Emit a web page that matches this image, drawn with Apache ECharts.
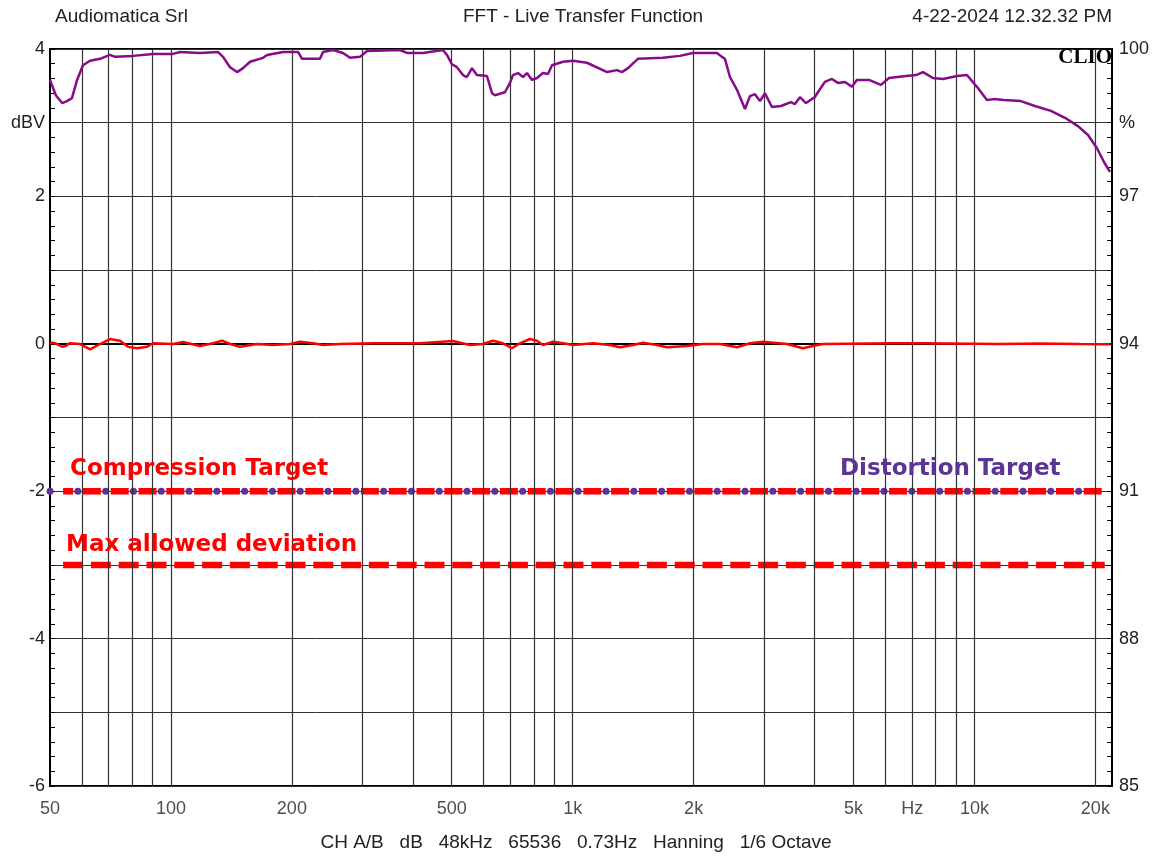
<!DOCTYPE html>
<html><head><meta charset="utf-8">
<script src="https://cdn.jsdelivr.net/npm/echarts@6/dist/echarts.min.js"></script>
<style>html,body{margin:0;padding:0;background:#fff}#c{width:1160px;height:856px}</style>
</head><body><div id="c"></div>
<script>
// ---- data ----
const distFreq = [50, 51.7, 53.6, 55.1, 56.7, 58.4, 60.4, 62.9, 66.6, 70.5,
  72.6, 80.5, 90.3, 101.2, 105.3, 118.1, 130.9, 134.8, 140.3, 146.1,
  151.2, 157.4, 169.5, 173.5, 190.2, 207.2, 212, 235, 239.1, 253.2,
  268.1, 279.1, 295.5, 307.6, 371.6, 386.8, 424, 475.4, 486.4, 500.6,
  515.1, 533.2, 545.5, 561.4, 577.7, 611.8, 629.7, 640.5, 678.3, 698.2,
  710.2, 730.9, 752.2, 769.6, 791.9, 815, 843.5, 868, 888.2, 946.2,
  1002, 1085, 1218, 1289, 1326, 1373, 1453, 1677, 1849, 1991,
  2286, 2353, 2393, 2463, 2564, 2684, 2762, 2842, 2925, 3010,
  3133, 3299, 3493, 3574, 3678, 3807, 4007, 4077, 4244, 4418,
  4573, 4760, 4954, 5098, 5463, 5853, 6127, 6756, 7153, 7446,
  7885, 8350, 9047, 9580, 10145, 10743, 11183, 11842, 13052, 14142,
  15502, 16800, 18103, 19173, 20186, 21011, 21745];
const distPct = [99.37, 99.06, 98.90, 98.94, 99.00, 99.37, 99.67, 99.76, 99.80, 99.88,
  99.84, 99.86, 99.90, 99.90, 99.94, 99.92, 99.94, 99.84, 99.63, 99.53,
  99.61, 99.74, 99.82, 99.88, 99.94, 99.94, 99.80, 99.80, 99.94, 99.98,
  99.92, 99.82, 99.84, 99.96, 99.98, 99.92, 99.92, 99.98, 99.88, 99.69,
  99.63, 99.47, 99.43, 99.61, 99.47, 99.45, 99.10, 99.06, 99.12, 99.31,
  99.47, 99.51, 99.43, 99.51, 99.37, 99.41, 99.51, 99.49, 99.67, 99.74,
  99.76, 99.72, 99.53, 99.57, 99.53, 99.61, 99.80, 99.82, 99.86, 99.92,
  99.92, 99.84, 99.80, 99.43, 99.17, 98.78, 99.04, 99.08, 98.94, 99.10,
  98.82, 98.84, 98.92, 98.88, 99.02, 98.90, 99.02, 99.12, 99.33, 99.39,
  99.31, 99.33, 99.23, 99.37, 99.37, 99.27, 99.41, 99.45, 99.47, 99.53,
  99.41, 99.39, 99.45, 99.47, 99.23, 98.96, 98.98, 98.96, 98.94, 98.84,
  98.74, 98.60, 98.43, 98.25, 97.98, 97.70, 97.50];
const compFreq = [50, 50.9, 52, 53.6, 54.7, 55.9, 59.4, 62.9, 66.6, 70.5,
  74.7, 78.2, 82.3, 87.2, 90.3, 101.2, 107.2, 118.1, 127.2, 134,
  140.3, 148.6, 163.8, 179.5, 197.9, 209.6, 225.8, 239.1, 263.6, 318.4,
  416.8, 503.5, 555, 597.8, 633.3, 670.6, 706.1, 739.2, 782.8, 815,
  843.5, 893.3, 946.2, 1002, 1123, 1238, 1311, 1413, 1496, 1621,
  1716, 1924, 2110, 2326, 2564, 2762, 2976, 3414, 3741, 3962,
  4196, 6270, 7446, 11574, 14552, 18308, 21745];
const compDb = [0.01, 0.015, -0.003, -0.04, -0.03, 0.007, -0.003, -0.075, -0.003, 0.065,
  0.042, -0.04, -0.06, -0.04, 0.007, -0.003, 0.024, -0.03, 0.007, 0.042,
  -0.003, -0.04, -0.003, -0.016, -0.003, 0.028, 0.007, -0.016, -0.003, 0.007,
  0.007, 0.038, -0.016, -0.003, 0.042, 0.007, -0.06, 0.007, 0.065, 0.042,
  -0.016, 0.028, 0.007, -0.016, 0.007, -0.016, -0.047, -0.016, 0.015, -0.016,
  -0.047, -0.03, -0.003, -0.003, -0.047, 0.007, 0.028, -0.003, -0.06, -0.03,
  -0.003, 0.007, 0.007, -0.003, 0.004, -0.003, -0.007];
const gridFreqs = [60, 70, 80, 90, 100, 200, 300, 400, 500, 600, 700, 800, 900,
  1000, 2000, 3000, 4000, 5000, 6000, 7000, 8000, 9000, 10000, 20000];
const tickFreqs = [50, 100, 200, 500, 1000, 2000, 5000, 7000, 10000, 20000];
const tickLabels = ['50', '100', '200', '500', '1k', '2k', '5k', 'Hz', '10k', '20k'];
const compressionTargetDb = -2;
const maxDeviationDb = -3;
const distortionTargetPct = 91;
const targetRange = [53.9, 21100];
const distTargetRange = [50, 18500];

// ---- chart ----
const SANS = '"Liberation Sans", Arial, sans-serif';
const BOLD = 'bold 23px "DejaVu Sans", sans-serif';
const chart = echarts.init(document.getElementById('c'), null, {renderer: 'canvas'});
const pair = (xs, ys) => xs.map((x, i) => [x, ys[i]]);

chart.setOption({
  animation: false,
  backgroundColor: '#fff',
  grid: {left: 50, right: 48, top: 49, bottom: 70, show: true, borderColor: '#000', borderWidth: 2, backgroundColor: 'transparent'},
  xAxis: {
    type: 'log', logBase: 10, min: 50, max: 22000,
    axisLine: {show: true, lineStyle: {color: '#000', width: 2}},
    axisTick: {show: false}, axisLabel: {show: false}, splitLine: {show: false}, minorTick: {show: false}
  },
  yAxis: [{
    type: 'value', min: -6, max: 4, interval: 1, position: 'left',
    axisLine: {show: true, lineStyle: {color: '#000', width: 2}},
    axisTick: {show: true, inside: true, length: 5, lineStyle: {color: '#000'}},
    minorTick: {show: true, splitNumber: 5, length: 5, lineStyle: {color: '#000'}},
    splitLine: {show: true, lineStyle: {color: '#333', width: 1}},
    axisLabel: {
      margin: 5, color: '#222', fontSize: 18, fontFamily: SANS,
      formatter: v => (Math.abs(v - 3) < 1e-6 ? 'dBV' : (Math.round(v) % 2 === 0 ? String(Math.round(v)) : ''))
    }
  }, {
    type: 'value', min: 85, max: 100, interval: 1.5, position: 'right',
    axisLine: {show: true, lineStyle: {color: '#000', width: 2}},
    axisTick: {show: true, inside: true, length: 5, lineStyle: {color: '#000'}},
    minorTick: {show: true, splitNumber: 5, length: 5, lineStyle: {color: '#000'}},
    splitLine: {show: false},
    axisLabel: {
      margin: 7, color: '#222', fontSize: 18, fontFamily: SANS,
      formatter: v => {
        if (Math.abs(v - 98.5) < 1e-6) return '%';
        const k = Math.round((v - 85) / 1.5);
        return k % 2 === 0 ? String(Math.round(v)) : '';
      }
    }
  }],
  series: [
    { // vertical grid lines
      type: 'line', data: [], z: 1, silent: true,
      markLine: {
        silent: true, symbol: 'none', animation: false, label: {show: false},
        lineStyle: {color: '#333', width: 1.2, type: 'solid'},
        data: gridFreqs.map(f => ({xAxis: f}))
      }
    },
    { // frequency tick labels
      type: 'scatter', z: 2, silent: true, symbolSize: 1,
      itemStyle: {color: 'rgba(0,0,0,0)'},
      data: tickFreqs.map((f, i) => ({value: [f, -6], name: tickLabels[i]})),
      label: {show: true, position: 'bottom', distance: 14, formatter: p => p.name, color: '#222', fontSize: 18, fontFamily: SANS}
    },
    {
      name: 'Compression', type: 'line', z: 5, yAxisIndex: 0, showSymbol: false, silent: true,
      data: pair(compFreq, compDb), lineStyle: {color: '#ff0000', width: 2.5}
    },
    {
      name: 'Distortion', type: 'line', z: 5, yAxisIndex: 1, showSymbol: false, silent: true,
      data: pair(distFreq, distPct), lineStyle: {color: '#870a8a', width: 2.5}
    },
    {
      name: 'Max allowed deviation', type: 'line', z: 4, yAxisIndex: 0, showSymbol: false, silent: true,
      data: targetRange.map(f => [f, maxDeviationDb]),
      lineStyle: {color: '#ff0000', width: 6.5, type: [20, 7.8], cap: 'butt'}
    },
    {
      name: 'Compression Target', type: 'line', z: 4, yAxisIndex: 0, showSymbol: false, silent: true,
      data: targetRange.map(f => [f, compressionTargetDb]),
      lineStyle: {color: '#ff0000', width: 6.5, type: [18, 9.8], dashOffset: 8, cap: 'butt'}
    },
    {
      name: 'Distortion Target', type: 'line', z: 4, yAxisIndex: 1, showSymbol: false, silent: true,
      data: distTargetRange.map(f => [f, distortionTargetPct]),
      lineStyle: {color: '#5b3494', width: 7, type: [0.1, 27.7], cap: 'round'}
    }
  ],
  graphic: [
    {type: 'text', x: 55, y: 17, silent: true, style: {text: 'Audiomatica Srl', font: '19px ' + SANS, fill: '#222', align: 'left', verticalAlign: 'middle'}},
    {type: 'text', x: 583, y: 17, silent: true, style: {text: 'FFT - Live Transfer Function', font: '19px ' + SANS, fill: '#222', align: 'center', verticalAlign: 'middle'}},
    {type: 'text', x: 1112, y: 17, silent: true, style: {text: '4-22-2024 12.32.32 PM', font: '19px ' + SANS, fill: '#222', align: 'right', verticalAlign: 'middle'}},
    {type: 'text', x: 576, y: 843, silent: true, style: {text: 'CH A/B   dB   48kHz   65536   0.73Hz   Hanning   1/6 Octave', font: '19px ' + SANS, fill: '#222', align: 'center', verticalAlign: 'middle'}},
    {type: 'text', x: 1112, y: 58, silent: true, z: 10, style: {text: 'CLIO', font: 'bold 21px "Liberation Serif", serif', fill: '#000', align: 'right', verticalAlign: 'middle'}},
    {type: 'text', x: 70, y: 469, silent: true, z: 10, style: {text: 'Compression Target', font: BOLD, fill: '#ff0000', align: 'left', verticalAlign: 'middle'}},
    {type: 'text', x: 840, y: 469, silent: true, z: 10, style: {text: 'Distortion Target', font: BOLD, fill: '#5b3494', align: 'left', verticalAlign: 'middle'}},
    {type: 'text', x: 66, y: 545, silent: true, z: 10, style: {text: 'Max allowed deviation', font: BOLD, fill: '#ff0000', align: 'left', verticalAlign: 'middle'}}
  ]
});
</script>
</body></html>
